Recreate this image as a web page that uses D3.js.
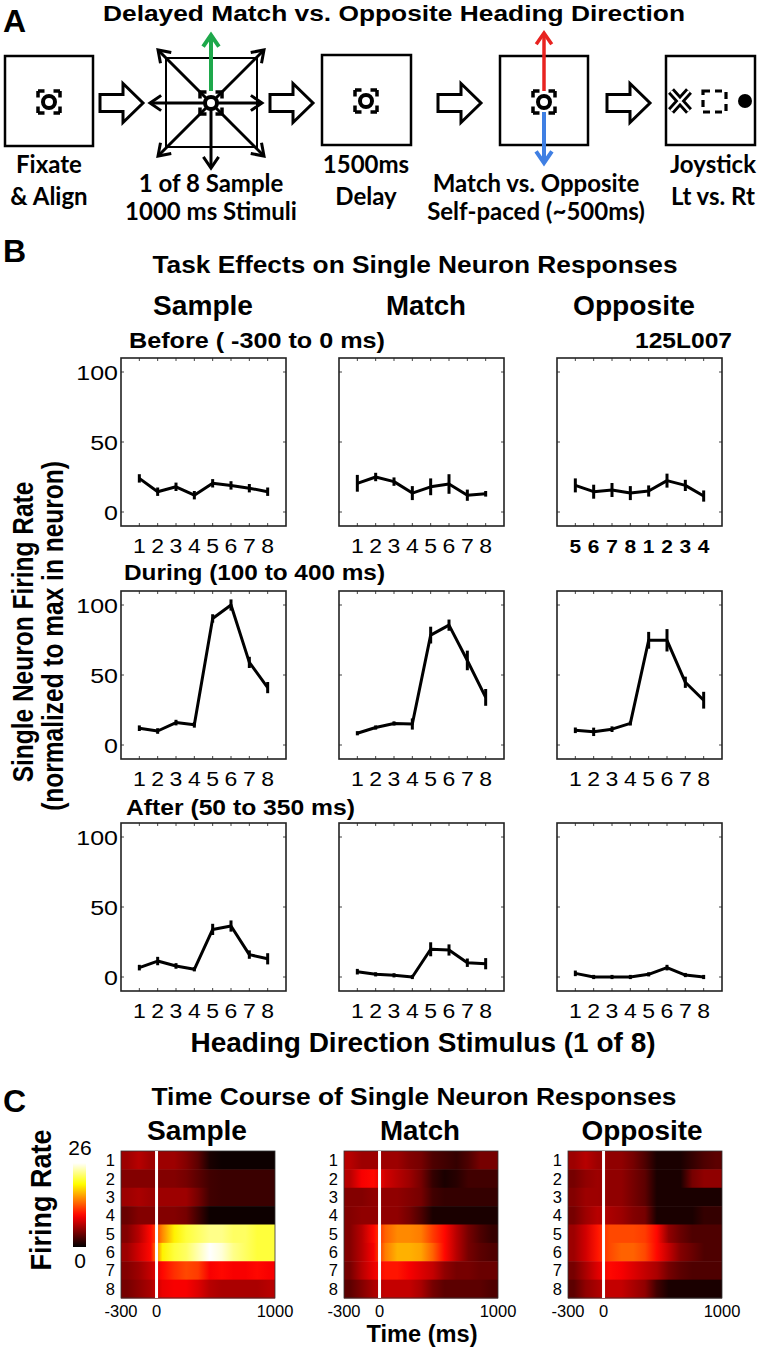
<!DOCTYPE html>
<html><head><meta charset="utf-8">
<script src="https://cdn.jsdelivr.net/npm/d3@7"></script>
<style>body{margin:0;background:#fff}svg{display:block}</style>
</head><body>
<script>
// ---------- DATA ----------
const stimuli = [1,2,3,4,5,6,7,8];
const oppositeLabels = ["5","6","7","8","1","2","3","4"];
const conditions = ["Sample","Match","Opposite"];
const epochs = ["Before  ( -300 to 0 ms)","During (100 to 400 ms)","After (50 to 350 ms)"];
const yTicks = [0,50,100];

const sampleBefore    = [24,14.5,18,12,20.5,19,17,14.5];
const sampleBeforeErr = [3,3,3,3,3,3,3,3];
const matchBefore     = [20.5,25,21.7,13.5,18,20,12,13];
const matchBeforeErr  = [6,3,3,5,6,7,4,2];
const oppBefore       = [19,14.5,15.7,13.5,15,22.4,19,11.4];
const oppBeforeErr    = [5,5,5,5,4,5,4,4];

const sampleDuring    = [12,10,16,14.4,90.4,100,59,41];
const sampleDuringErr = [2,2,2,2,3,4,4,4];
const matchDuring     = [8.4,12.5,15.4,15,78.5,85.6,60.4,34];
const matchDuringErr  = [1,1,1,4,6,4,7,6];
const oppDuring       = [10.5,9.4,11.3,15.4,74.8,74.8,44.8,32];
const oppDuringErr    = [2,3,2,1,6,8,4,6];

const sampleAfter     = [6.7,11.4,7.9,5.5,34,36.4,16,13];
const sampleAfterErr  = [2,3,2,1,4,4,3,4];
const matchAfter      = [3.8,1.9,1.2,0,19.8,19.3,10.2,9.5];
const matchAfterErr   = [2,1,1,0,5,4,3,4];
const oppAfter        = [2.6,0,0,0,1.9,6.7,1.4,0];
const oppAfterErr     = [2,0,0,0,1.5,2,1.5,0];

// heatmap: time bin centres (ms) and firing rates (spikes/s), rows = stimulus 1..8
const timeBins = [-250,-150,-50,50,150,250,350,450,550,650,750,850,950];
const timeTicks = [-300,0,1000];
const colorMax = 26;
const heatSample = [
  [6,7,6, 6,6,5,3.5,1,0.5,0.5,0.5,0.5,0.5],
  [5,5,5, 5,5,4.5,3.5,2.5,2.2,2.2,2.2,2.2,2.2],
  [6,6.5,6, 6,6,6,4.5,2.5,2.2,2.2,2.2,2.2,2.2],
  [4,5,5, 5,5,4.5,2.5,0.5,0.5,0.5,0.5,0.5,0.5],
  [5,7,10, 15,19,21,22,23,23,22,22,21,21],
  [6,8,10, 19,21,22,24,26,25,23,22,21,21],
  [5,6,7.5, 10,11.5,12.5,12,9.5,10,9.5,9.5,10,9.5],
  [4.5,5.5,6.5, 9,9.5,9.5,8.5,7,6.5,6.5,6.5,6.5,7]
];
const heatMatch = [
  [7,6,6, 6,6,5,4.5,3,2.5,2,3,4.5,4.5],
  [7,9.5,10, 8,7,6,4.5,2,1,1.5,2.5,2.5,2.5],
  [5,5,5.5, 5.5,5.5,5,4.5,2.5,2,2,2,2,2],
  [5,5.5,5.5, 5.5,5.5,4.5,3,1,1,1,1,1,1],
  [5,7,10, 13.5,15,15,14.5,12,10,7,4.5,3,2],
  [5,7,9.5, 14.5,16.5,16.5,16,13.5,10,7,4.5,3.5,3],
  [4.5,7,9, 10.5,10.5,9.5,8.5,7.5,5.5,4.5,4.5,4,4],
  [3.5,5,6.5, 7.5,7.5,7.5,6.5,4.5,3.5,3.5,3.5,3.5,3]
];
const heatOpposite = [
  [6,7,6, 5.5,5.5,4.5,3,1,1,1,2,3,3.5],
  [4.5,5.5,6, 5.5,5.5,4.5,3.5,1,1,1,4.5,5.5,5.5],
  [5,6,6, 5.5,5.5,4.5,3.5,1,1,1,1,1,1],
  [4.5,6,7, 6.5,6,5,4.5,1,1,1,1,2,2],
  [6,8,10.5, 12.5,12.5,12.5,12,10,5.5,4,3,3,3],
  [6,8,10.5, 12.5,13.5,13.5,12.5,10,7.5,5,4,3,3],
  [4.5,6.5,8.5, 10,9.5,8.5,7.5,6.5,4.5,3.5,3,3,3],
  [3.5,5.5,6.5, 7.5,7.5,6.5,5.5,2.5,1,1,1,1,1]
];

// ---------- SETUP ----------
const W = 760, H = 1349;
const svg = d3.select("body").append("svg").attr("width",W).attr("height",H);
const ARIAL = "'Liberation Sans', Arial, sans-serif";
const CAL = "Lato, 'Open Sans', sans-serif";

function txt(x,y,s,size,opts={}){
  const t = svg.append("text").text(s)
    .attr("font-family",opts.family||ARIAL).attr("font-size",size)
    .attr("font-weight",opts.weight||"bold").attr("fill","#000")
    .attr("text-anchor",opts.anchor||"start");
  if(opts.rotate){ t.attr("x",0).attr("y",0).attr("transform",`translate(${x},${y}) rotate(-90) scale(1,${opts.sy||1})`); }
  else if(opts.sx){ t.attr("x",0).attr("y",0).attr("transform",`translate(${x},${y}) scale(${opts.sx},1)`); }
  else { t.attr("x",x).attr("y",y); }
  if(opts.len){ t.attr("textLength",opts.len).attr("lengthAdjust","spacingAndGlyphs"); }
  return t;
}

// ---------- PANEL A ----------
txt(3,32,"A",32);
txt(394,21,"Delayed Match vs. Opposite Heading Direction",22.5,{anchor:"middle",len:582});

const boxes = [
  {x:5,y:56,w:88,h:90},{x:166,y:58,w:91,h:89},{x:322,y:55,w:89,h:90},
  {x:500,y:56,w:88,h:89},{x:666,y:56,w:89,h:89}];
const gA = svg.append("g");
boxes.forEach((b,i)=>gA.append("rect").attr("x",b.x).attr("y",b.y).attr("width",b.w).attr("height",b.h)
  .attr("fill","#fff").attr("stroke","#000").attr("stroke-width",i===1?2:2.5));

function fixSym(cx,cy){
  gA.append("rect").attr("x",cx-11).attr("y",cy-11).attr("width",22).attr("height",22)
    .attr("fill","none").attr("stroke","#000").attr("stroke-width",3.5)
    .attr("stroke-dasharray","6.5,9,6.5,0");
  gA.append("circle").attr("cx",cx).attr("cy",cy).attr("r",6).attr("fill","#fff")
    .attr("stroke","#000").attr("stroke-width",4);
}
function lineArrow(x1,y1,x2,y2,color,w){
  const a = Math.atan2(y2-y1,x2-x1), L=12, s=0.6;
  gA.append("line").attr("x1",x1).attr("y1",y1).attr("x2",x2).attr("y2",y2)
    .attr("stroke",color).attr("stroke-width",w);
  gA.append("path").attr("d",`M${x2-L*Math.cos(a-s)},${y2-L*Math.sin(a-s)}L${x2},${y2}L${x2-L*Math.cos(a+s)},${y2-L*Math.sin(a+s)}`)
    .attr("fill","none").attr("stroke",color).attr("stroke-width",w).attr("stroke-linecap","square");
}
function blockArrow(x0,cy){
  gA.append("path").attr("d",`M${x0},${cy-8.5}L${x0+23},${cy-8.5}L${x0+23},${cy-19.5}L${x0+43},${cy}L${x0+23},${cy+19.5}L${x0+23},${cy+8.5}L${x0},${cy+8.5}Z`)
    .attr("fill","#fff").attr("stroke","#000").attr("stroke-width",3);
}

fixSym(49,102);
const c2 = {x:211,y:103};
[[-53,-53],[53,-53],[-53,53],[53,53],[-61,0],[51,0],[0,65]].forEach(d=>lineArrow(c2.x,c2.y,c2.x+d[0],c2.y+d[1],"#000",3));
fixSym(c2.x,c2.y);
lineArrow(c2.x,c2.y-12,c2.x,35,"#1ea84b",4);
fixSym(366,101);
lineArrow(544,91,544,33,"#e82320",3.5);
lineArrow(544,112,544,163,"#3f7fe3",4);
fixSym(544,102);
gA.append("path").attr("d","M671,91L689,111M689,91L671,111").attr("stroke","#000").attr("stroke-width",8);
gA.append("path").attr("d","M671,91L689,111M689,91L671,111").attr("stroke","#fff").attr("stroke-width",2.5);
gA.append("rect").attr("x",703).attr("y",91).attr("width",23).attr("height",21)
  .attr("fill","none").attr("stroke","#000").attr("stroke-width",3.2).attr("stroke-dasharray","7,5");
gA.append("circle").attr("cx",745).attr("cy",101).attr("r",7).attr("fill","#000");

[100,270,438,607].forEach(x=>blockArrow(x,103));

const aLabels = [
  {x:49,lines:["Fixate","& Align"],y:[173,205]},
  {x:211,lines:["1 of 8 Sample","1000 ms Stimuli"],y:[192,220]},
  {x:366,lines:["1500ms","Delay"],y:[173,205]},
  {x:536,lines:["Match vs. Opposite","Self-paced (~500ms)"],y:[192,220]},
  {x:713,lines:["Joystick","Lt vs. Rt"],y:[173,205]}];
aLabels.forEach(l=>l.lines.forEach((s,i)=>txt(l.x,l.y[i],s,24,{family:CAL,anchor:"middle"})));

// ---------- PANEL B ----------
txt(3,262,"B",32);
txt(415,273,"Task Effects on Single Neuron Responses",24,{anchor:"middle",len:525});
const colX = [121,339,557], rowY = [358,591,823], pw = 165, ph = 168;
const colHead = [{x:203,w:100},{x:426,w:80},{x:634,w:122}];
conditions.forEach((c,i)=>txt(colHead[i].x,315,c,27,{anchor:"middle",len:colHead[i].w}));
txt(129,348,epochs[0],22,{len:256});
txt(124,580,epochs[1],22,{len:261});
txt(126,815,epochs[2],22,{len:229});
txt(732,348,"125L007",22,{anchor:"end",len:97});

const series = [
  [[sampleBefore,sampleBeforeErr],[matchBefore,matchBeforeErr],[oppBefore,oppBeforeErr]],
  [[sampleDuring,sampleDuringErr],[matchDuring,matchDuringErr],[oppDuring,oppDuringErr]],
  [[sampleAfter,sampleAfterErr],[matchAfter,matchAfterErr],[oppAfter,oppAfterErr]]];

rowY.forEach((y0,r)=>{
  colX.forEach((x0,c)=>{
    const x = d3.scaleLinear().domain([0,9]).range([x0,x0+pw]);
    const y = d3.scaleLinear().domain([-10,110]).range([y0+ph,y0]);
    const g = svg.append("g");
    stimuli.forEach(s=>{
      g.append("line").attr("x1",x(s)).attr("x2",x(s)).attr("y1",y0+ph).attr("y2",y0+ph-3).attr("stroke","#444").attr("stroke-width",1);
      g.append("line").attr("x1",x(s)).attr("x2",x(s)).attr("y1",y0).attr("y2",y0+3).attr("stroke","#444").attr("stroke-width",1);
    });
    yTicks.forEach(v=>{
      g.append("line").attr("x1",x0).attr("x2",x0+3).attr("y1",y(v)).attr("y2",y(v)).attr("stroke","#444").attr("stroke-width",1);
      g.append("line").attr("x1",x0+pw).attr("x2",x0+pw-3).attr("y1",y(v)).attr("y2",y(v)).attr("stroke","#444").attr("stroke-width",1);
    });
    g.append("rect").attr("x",x0).attr("y",y0).attr("width",pw).attr("height",ph)
      .attr("fill","none").attr("stroke","#222").attr("stroke-width",1.6);
    const [vals,errs] = series[r][c];
    g.append("path").datum(vals).attr("d",d3.line().x((d,i)=>x(stimuli[i])).y(d=>y(d)))
      .attr("fill","none").attr("stroke","#000").attr("stroke-width",3).attr("stroke-linejoin","round");
    vals.forEach((v,i)=>{
      const e = Math.max(errs[i],1.5);
      g.append("line").attr("x1",x(stimuli[i])).attr("x2",x(stimuli[i])).attr("y1",y(v-e)).attr("y2",y(v+e))
        .attr("stroke","#000").attr("stroke-width",3);
    });
    const bold = (r===0 && c===2);
    const labs = bold ? oppositeLabels : stimuli.map(String);
    labs.forEach((s,i)=>txt(x(stimuli[i]),y0+ph+27,s,bold?19:19.5,{anchor:"middle",weight:bold?"bold":"normal",sx:bold?1.1:1.18}));
    if(c===0) yTicks.forEach(v=>txt(x0-3,y(v)+7.5,String(v),20,{anchor:"end",weight:"normal",sx:1.25}));
  });
});
txt(33,632,"Single Neuron Firing Rate",24.5,{anchor:"middle",rotate:true,sy:1.18});
txt(63,636,"(normalized to max in neuron)",24.5,{anchor:"middle",rotate:true,sy:1.18});
txt(423,1052,"Heading Direction Stimulus (1 of 8)",28,{anchor:"middle"});

// ---------- PANEL C ----------
txt(3,1112,"C",32);
txt(414,1105,"Time Course of Single Neuron Responses",24,{anchor:"middle",len:525});
const hmX = [121,344,568], hmY = 1151, hmW = 154, hmH = 147;
const hmHead = [{x:197,w:100},{x:420,w:80},{x:642,w:121}];
const heats = [heatSample,heatMatch,heatOpposite];
function hot(v){
  const t = Math.max(0,Math.min(1,v/colorMax));
  const cl = a=>Math.max(0,Math.min(1,a));
  return d3.rgb(255*cl(t/0.375),255*cl((t-0.375)/0.375),255*cl((t-0.75)/0.25)).formatHex();
}
const defs = svg.append("defs");
conditions.forEach((c,ci)=>{
  txt(hmHead[ci].x,1140,c,27,{anchor:"middle",len:hmHead[ci].w});
  const x0 = hmX[ci];
  const x = d3.scaleLinear().domain([-300,1000]).range([x0,x0+hmW]);
  const y = d3.scaleBand().domain(stimuli).range([hmY,hmY+hmH]);
  const g = svg.append("g");
  heats[ci].forEach((row,ri)=>{
    const id = `hg${ci}_${ri}`;
    const lg = defs.append("linearGradient").attr("id",id).attr("x1","0%").attr("x2","100%").attr("y1","0%").attr("y2","0%");
    row.forEach((v,k)=>lg.append("stop").attr("offset",((timeBins[k]+300)/1300*100)+"%").attr("stop-color",hot(v)));
    g.append("rect").attr("x",x0).attr("y",y(stimuli[ri])).attr("width",hmW).attr("height",y.bandwidth()+0.5)
      .attr("fill",`url(#${id})`);
    txt(x0-6,y(stimuli[ri])+y.bandwidth()/2+6,String(stimuli[ri]),16.5,{anchor:"end",weight:"normal"});
  });
  g.append("rect").attr("x",x0).attr("y",hmY).attr("width",hmW).attr("height",hmH).attr("fill","none").attr("stroke","#333").attr("stroke-width",0.8);
  g.append("line").attr("x1",x(0)).attr("x2",x(0)).attr("y1",hmY).attr("y2",hmY+hmH).attr("stroke","#fff").attr("stroke-width",3);
  timeTicks.forEach(t=>txt(x(t),1317,String(t),16.5,{anchor:"middle",weight:"normal"}));
});
const cbg = defs.append("linearGradient").attr("id","cbar").attr("x1","0%").attr("x2","0%").attr("y1","100%").attr("y2","0%");
d3.range(0,1.0001,0.05).forEach(f=>cbg.append("stop").attr("offset",(f*100)+"%").attr("stop-color",hot(f*colorMax)));
svg.append("rect").attr("x",73).attr("y",1163).attr("width",13).attr("height",84).attr("fill","url(#cbar)");
txt(80,1155,String(colorMax),21,{anchor:"middle",weight:"normal"});
txt(80,1268,"0",21,{anchor:"middle",weight:"normal"});
txt(51,1200,"Firing Rate",27,{anchor:"middle",rotate:true,sy:1.12});
txt(422,1342,"Time (ms)",23,{anchor:"middle",len:111});
</script>
</body></html>
